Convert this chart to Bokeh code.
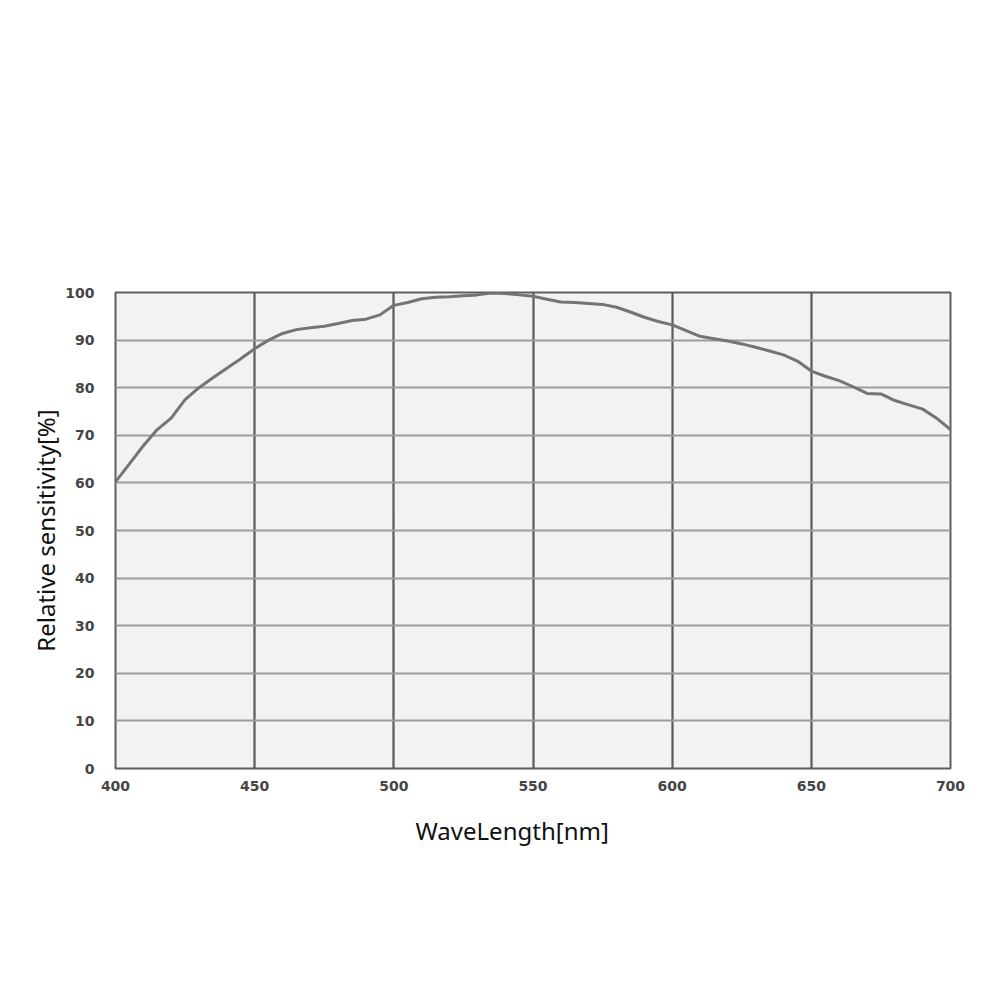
from bokeh.plotting import figure
from bokeh.models import Range1d, FixedTicker, Title
from bokeh.embed import file_html
from bokeh.resources import INLINE

wavelength = [400, 405, 410, 415, 420, 425, 430, 435, 440, 445, 450, 455, 460, 465, 470,
              475, 480, 485, 490, 495, 500, 505, 510, 515, 520, 525, 530, 535, 540, 545,
              550, 555, 560, 565, 570, 575, 580, 585, 590, 595, 600, 605, 610, 615, 620,
              625, 630, 635, 640, 645, 650, 655, 660, 665, 670, 675, 680, 685, 690, 695, 700]
sensitivity = [60.2, 64.0, 67.8, 71.2, 73.6, 77.5, 80.0, 82.1, 84.1, 86.1, 88.2, 90.0, 91.4, 92.2, 92.6,
               92.9, 93.5, 94.1, 94.4, 95.3, 97.3, 97.9, 98.7, 99.0, 99.1, 99.3, 99.5, 99.9, 99.8, 99.5,
               99.2, 98.6, 98.0, 97.9, 97.7, 97.5, 96.9, 95.9, 94.8, 93.9, 93.2, 92.0, 90.8, 90.3, 89.8,
               89.2, 88.5, 87.7, 86.9, 85.6, 83.5, 82.4, 81.5, 80.2, 78.8, 78.7, 77.3, 76.4, 75.5, 73.6, 71.2]

x_ticks = [400, 450, 500, 550, 600, 650, 700]
y_ticks = [0, 10, 20, 30, 40, 50, 60, 70, 80, 90, 100]
x_grid = [450, 500, 550, 600, 650]
y_grid = [10, 20, 30, 40, 50, 60, 70, 80, 90]
x_title = "WaveLength[nm]"
y_title = "Relative sensitivity[%]"

W, H = 984, 984
FL, FR, FT, FB = 115, 950, 292, 768
p = figure(width=W, height=H, output_backend="svg", toolbar_location=None,
           x_range=Range1d(400, 700), y_range=Range1d(0, 100),
           min_border_left=FL, min_border_right=W - FR,
           min_border_top=FT, min_border_bottom=H - FB)
p.background_fill_color = "#f2f2f2"
p.border_fill_color = "white"
p.outline_line_color = "#5e5e5e"
p.outline_line_width = 2

p.xgrid.ticker = FixedTicker(ticks=x_grid)
p.xgrid.grid_line_color = "#5a5a5a"
p.xgrid.grid_line_width = 2.2
p.ygrid.ticker = FixedTicker(ticks=y_grid)
p.ygrid.grid_line_color = "#9c9c9c"
p.ygrid.grid_line_width = 2

for ax, ticks in ((p.xaxis, x_ticks), (p.yaxis, y_ticks)):
    ax.ticker = FixedTicker(ticks=ticks)
    ax.axis_line_color = None
    ax.major_tick_line_color = None
    ax.minor_tick_line_color = None
    ax.major_label_text_font = "DejaVu Sans"
    ax.major_label_text_font_style = "bold"
    ax.major_label_text_font_size = "14px"
    ax.major_label_text_color = "#454545"
p.xaxis.major_label_standoff = 6
p.yaxis.major_label_standoff = 15

p.yaxis.axis_label = y_title
p.yaxis.axis_label_text_font = "Noto Sans"
p.yaxis.axis_label_text_font_size = "24px"
p.yaxis.axis_label_text_font_style = "normal"
p.yaxis.axis_label_text_color = "#111111"
p.yaxis.axis_label_standoff = 0

p.line(wavelength, sensitivity, line_color="#747474", line_width=3)

p.add_layout(Title(text=x_title, align="left", offset=415 - FL, standoff=36,
                   text_font="Noto Sans", text_font_size="24px", text_font_style="normal",
                   text_color="#111111"), "below")

open("out.html", "w").write(file_html(p, INLINE))
